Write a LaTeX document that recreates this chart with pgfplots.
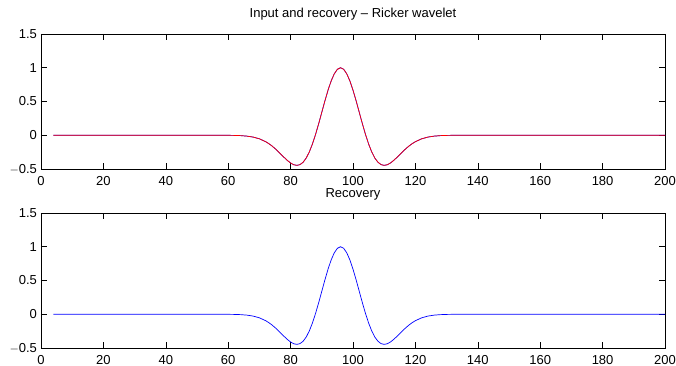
\documentclass[border=0pt]{standalone}
\usepackage{pgfplots}
\pgfplotsset{compat=1.18}
\usepackage{pgfplotstable}
\usepackage{fontspec}
\setmainfont{Liberation Sans}
\pgfplotstableread{
x y
4 0
20 0
40 0
56 -0.00011
58 -0.00033
60 -0.00092
62 -0.00239
64 -0.00578
66 -0.01300
68 -0.02722
70 -0.05288
72 -0.09505
73 -0.12369
74 -0.15759
75 -0.19658
76 -0.23970
77 -0.28548
78 -0.33152
79 -0.37480
80 -0.41131
81 -0.43678
82 -0.44626
83 -0.43535
84 -0.40011
85 -0.33768
86 -0.24705
87 -0.12925
88 0.01225
89 0.17158
90 0.34064
91 0.50967
92 0.66796
93 0.80478
94 0.91044
95 0.97718
96 1.00000
97 0.97718
98 0.91044
99 0.80478
100 0.66796
101 0.50967
102 0.34064
103 0.17158
104 0.01225
105 -0.12925
106 -0.24705
107 -0.33768
108 -0.40011
109 -0.43535
110 -0.44626
111 -0.43678
112 -0.41131
113 -0.37480
114 -0.33152
115 -0.28548
116 -0.23970
117 -0.19658
118 -0.15759
119 -0.12369
120 -0.09505
122 -0.05288
124 -0.02722
126 -0.01300
128 -0.00578
130 -0.00239
132 -0.00092
134 -0.00033
136 -0.00011
140 0
160 0
180 0
200 0
}\wavelet
\pgfplotsset{
  mystyle/.style={
    scale only axis,
    anchor=south west,
    width=624pt, height=135pt,
    xmin=0, xmax=200, ymin=-0.5, ymax=1.5,
    xtick={0,20,...,200},
    ytick={-0.5,0,0.5,1,1.5},
    yticklabels={$-$0.5,0,0.5,1,1.5},
    xticklabels={0,20,40,60,80,100,120,140,160,180,200},
    tick align=inside,
    major tick length=6pt,
    tick style={black, line width=0.6pt},
    axis line style={black, line width=0.8pt},
    ticklabel style={font=\fontsize{13}{15}\selectfont},
    title style={font=\fontsize{13}{15}\selectfont, at={(0.5,1)}, anchor=base, yshift=10pt},
    xticklabel style={anchor=north, yshift=-3.5pt},
    yticklabel style={xshift=-0.5pt},
  }
}
\begin{document}
\begin{tikzpicture}
\useasboundingbox (-41pt,-197pt) rectangle (635pt,169pt);
\begin{axis}[mystyle, at={(0,0)}, title={Input and recovery -- Ricker wavelet}]
\addplot[blue, line width=0.7pt] table[x=x,y=y] {\wavelet};
\addplot[red, line width=0.7pt] table[x=x,y=y] {\wavelet};
\end{axis}
\begin{axis}[mystyle, at={(0,-179pt)}, title={Recovery}]
\addplot[blue, line width=0.7pt] table[x=x,y=y] {\wavelet};
\end{axis}
\end{tikzpicture}
\end{document}
